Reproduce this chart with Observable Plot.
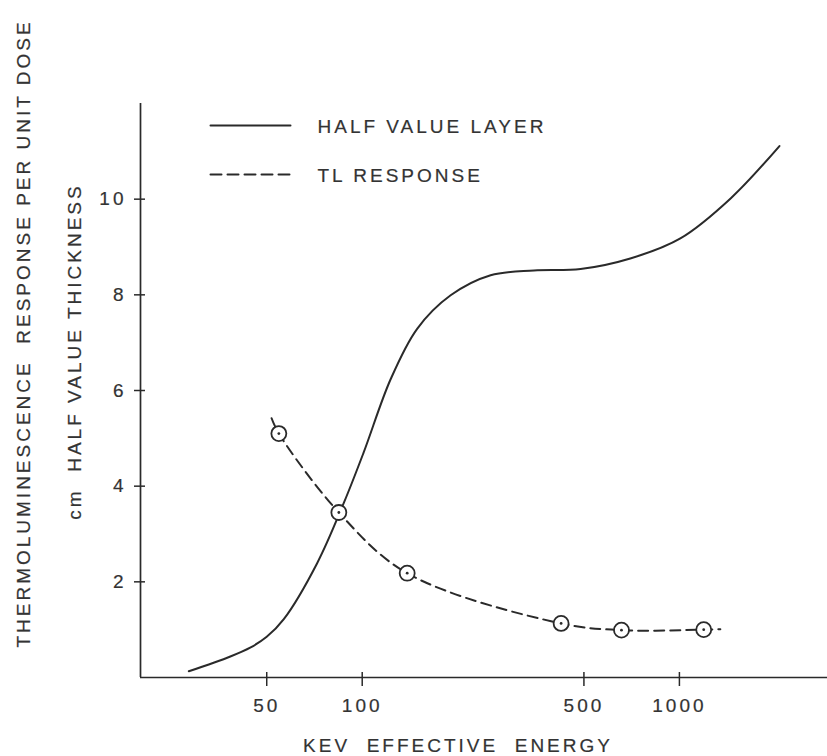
<!DOCTYPE html>
<html>
<head>
<meta charset="utf-8">
<script src="https://cdn.jsdelivr.net/npm/d3@7"></script>
<script src="https://cdn.jsdelivr.net/npm/@observablehq/plot@0.6"></script>
<style>
  body { margin: 0; background: #fff; }
</style>
</head>
<body>
<div id="chart"></div>
<script>
// ---- data ----
const xTicks = [50, 100, 500, 1000];
const yTicks = [2, 4, 6, 8, 10];
const xDomain = [20, 2930];
const yDomain = [0, 12];

// Half value layer (solid curve)
const hvlEnergy    = [28.4, 38.4, 44.5, 50, 56.6, 72.1, 87.5, 101, 123, 149, 190, 254, 348, 488, 700, 1007, 1453, 2067];
const hvlThickness = [0.13, 0.44, 0.63, 0.85, 1.22, 2.39, 3.65, 4.70, 6.24, 7.29, 7.99, 8.41, 8.51, 8.54, 8.76, 9.18, 10.02, 11.11];

// TL response measured points (circles)
const tlEnergy   = [54.6, 84.4, 138.6, 423.7, 656.7, 1193];
const tlResponse = [5.10, 3.45, 2.18, 1.13, 0.99, 1.00];

// TL response dashed curve (drawn from a bit before the first to a bit after the last point)
const tlCurveEnergy   = [51.8, 54.6, 84.4, 138.6, 423.7, 656.7, 1193, 1346];
const tlCurveResponse = [5.42, 5.10, 3.45, 2.18, 1.13, 0.99, 1.00, 1.01];

const legendLabels = ["HALF VALUE LAYER", "TL RESPONSE"];
const xTitle = "KEV  EFFECTIVE  ENERGY";
const yTitleOuter = "THERMOLUMINESCENCE  RESPONSE PER UNIT DOSE";
const yTitleInner = "cm  HALF VALUE THICKNESS";

// ---- build tables ----
const hvl = hvlEnergy.map((e, i) => ({energy: e, value: hvlThickness[i]}));
const tl = tlEnergy.map((e, i) => ({energy: e, value: tlResponse[i]}));
const tlCurve = tlCurveEnergy.map((e, i) => ({energy: e, value: tlCurveResponse[i]}));

const ink = "#2a2a2a";
const txt = "#333";
const FS = 19;
const textStyle = {fontSize: FS, fill: txt, stroke: txt, strokeWidth: 0.2};
const lineShape = {draw(context, l) { context.moveTo(0, 0); context.lineTo(0, -l); }};

const chart = Plot.plot({
  width: 827,
  height: 756,
  marginLeft: 140,
  marginRight: 0,
  marginTop: 103,
  marginBottom: 79,
  style: "font-family: 'Liberation Sans', Arial, sans-serif; font-size: 19px; letter-spacing: 3px; color: #333; background: #fff; overflow: visible;",
  x: {type: "log", domain: xDomain},
  y: {domain: yDomain},
  marks: [
    // axis lines
    Plot.ruleY([yDomain[0]], {stroke: ink, strokeWidth: 1.7}),
    Plot.ruleX([xDomain[0]], {stroke: ink, strokeWidth: 1.7}),
    // y ticks crossing the axis + labels
    Plot.axisY(yTicks, {tickSize: 11, dx: 5, text: null, label: null, stroke: ink, strokeWidth: 1.5}),
    Plot.text(yTicks, {y: d => d, text: d => String(d), frameAnchor: "left", textAnchor: "end", dx: -14, ...textStyle}),
    // x ticks crossing the axis + labels
    Plot.axisX(xTicks, {tickSize: 14, dy: -5, text: null, label: null, stroke: ink, strokeWidth: 1.5}),
    Plot.text(xTicks, {x: d => d, text: d => String(d), frameAnchor: "bottom", lineAnchor: "top", dy: 21, ...textStyle}),
    // curves
    Plot.line(hvl, {x: "energy", y: "value", curve: "catmull-rom", stroke: ink, strokeWidth: 2}),
    Plot.line(tlCurve, {x: "energy", y: "value", curve: "catmull-rom", stroke: ink, strokeWidth: 2, strokeDasharray: "10,6"}),
    Plot.dot(tl, {x: "energy", y: "value", r: 7.5, stroke: ink, strokeWidth: 1.8, fill: "white"}),
    Plot.dot(tl, {x: "energy", y: "value", r: 1.4, fill: ink, stroke: null}),
    // legend (inside plot area)
    Plot.vector([legendLabels[0]], {frameAnchor: "top-left", dx: 70, dy: 22, length: 80, rotate: 90, anchor: "start", shape: lineShape, stroke: ink, strokeWidth: 2}),
    Plot.vector([legendLabels[1]], {frameAnchor: "top-left", dx: 70, dy: 71, length: 80, rotate: 90, anchor: "start", shape: lineShape, stroke: ink, strokeWidth: 2, strokeDasharray: "11,6"}),
    Plot.text([legendLabels[0]], {text: d => d, frameAnchor: "top-left", dx: 177, dy: 23, textAnchor: "start", lineAnchor: "middle", ...textStyle}),
    Plot.text([legendLabels[1]], {text: d => d, frameAnchor: "top-left", dx: 177, dy: 72, textAnchor: "start", lineAnchor: "middle", ...textStyle}),
    // titles
    Plot.text([xTitle], {text: d => d, frameAnchor: "bottom", textAnchor: "middle", lineAnchor: "middle", dx: -26, dy: 68, ...textStyle}),
    Plot.text([yTitleOuter], {text: d => d, frameAnchor: "left", textAnchor: "middle", lineAnchor: "middle", rotate: -90, dx: -117, dy: -57, ...textStyle}),
    Plot.text([yTitleInner], {text: d => d, frameAnchor: "left", textAnchor: "middle", lineAnchor: "middle", rotate: -90, dx: -66, dy: -39, ...textStyle, letterSpacing: null})
  ]
});
document.getElementById("chart").appendChild(chart);
</script>
</body>
</html>
